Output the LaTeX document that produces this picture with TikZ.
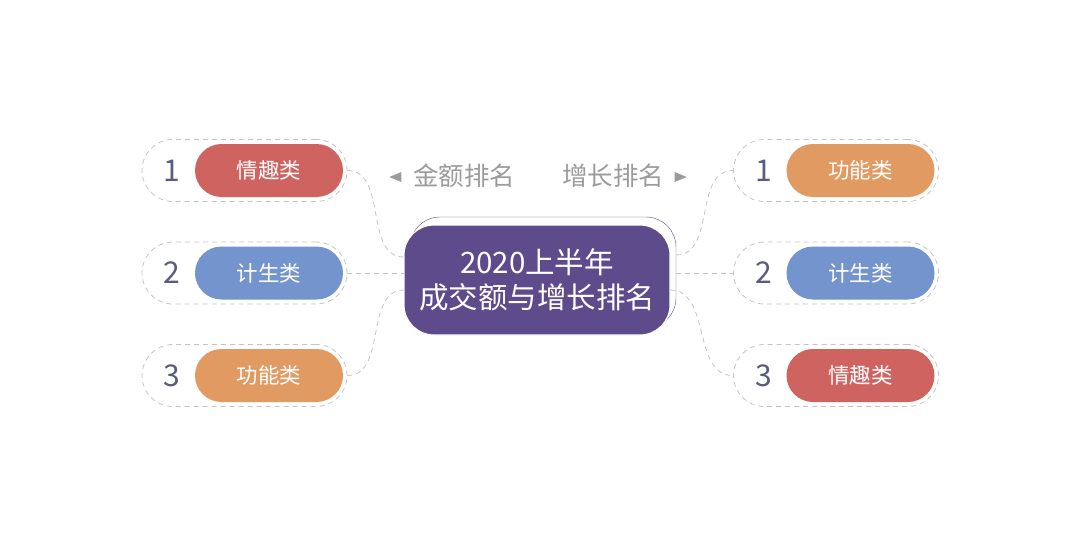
\documentclass[tikz,border=0pt]{standalone}
\usepackage{fontspec}
\setmainfont{Noto Sans CJK SC}
\usepackage{xcolor}
\usetikzlibrary{shapes.geometric,positioning}
\definecolor{rootc}{HTML}{5E4B8B}
\definecolor{redc}{HTML}{CF6360}
\definecolor{bluc}{HTML}{7394CC}
\definecolor{orgc}{HTML}{E09A62}
\definecolor{numc}{HTML}{5B5B7B}
\definecolor{tagc}{HTML}{9B9B9B}
\definecolor{linkc}{HTML}{C4C4C4}

\begin{document}
\begin{tikzpicture} [
      x = 1pt, y = -1pt,
      pill/.style = { rounded corners = 26.5pt, minimum width = 148pt, minimum height = 53pt,
                      inner sep = 0, text = white, font = \fontsize{21.5}{21.5}\selectfont },
      capsule/.style = { draw = linkc, dash pattern = on 5pt off 4pt, line width = 0.8pt,
                         rounded corners = 31pt, minimum width = 205pt, minimum height = 62pt },
      num/.style = { text = numc, font = \fontsize{30}{30}\selectfont },
      tag/.style = { text = tagc, font = \fontsize{25.5}{25.5}\selectfont },
      tip/.style = { isosceles triangle, fill = tagc, inner sep = 0,
                     minimum width = 10pt, minimum height = 8pt },
      link/.style = { draw = linkc, dash pattern = on 5pt off 4pt, line width = 0.8pt }
      ]
  \useasboundingbox (0,0) rectangle (1080,546);

  % centre
  \node [draw = rootc, rounded corners = 30pt, minimum width = 266pt, minimum height = 111pt]
    (rootbk) at (543,272.5) {};
  \node [fill = rootc, draw = white, line width = 1.2pt, rounded corners = 30pt,
         minimum width = 266pt, minimum height = 110pt, text = white, align = center,
         font = \fontsize{29.5}{35}\selectfont] (root) at (537,280) {2020上半年\\成交额与增长排名};

  % headings
  \node [tag] (ltag) at (464,176) {金额排名};
  \node [tip, shape border rotate = 180] (ltip) at (398,177) {};
  \node [tag] (rtag) at (613,176) {增长排名};
  \node [tip] (rtip) at (678,177) {};

  % rows
  \foreach \i/\y/\lc/\lt/\rc/\rt in {1/170.5/redc/情趣类/orgc/功能类,
                                     2/273/bluc/计生类/bluc/计生类,
                                     3/375.5/orgc/功能类/redc/情趣类} {
    \node [capsule] (lb\i) at (244.5,\y) {};
    \node [pill, fill = \lc] (l\i) at (269,\y) {\lt};
    \node [num] (ln\i) at (172,\y) {\i};
    \node [capsule] (rb\i) at (836,\y) {};
    \node [pill, fill = \rc] (r\i) at (860.5,\y) {\rt};
    \node [num] (rn\i) at (764,\y) {\i};
  }

  % connectors
  \coordinate (rl1) at (404,257);
  \coordinate (rl2) at (404,273);
  \coordinate (rl3) at (404,290);
  \coordinate (rr1) at (676,255);
  \coordinate (rr2) at (676,273);
  \coordinate (rr3) at (670,290);
  \draw [link] (lb1.east) to [out = 0, in = 180] (rl1);
  \draw [link] (lb2.east) -- (rl2);
  \draw [link] (lb3.east) to [out = 0, in = 180] (rl3);
  \draw [link] (rr1) to [out = 0, in = 180] (rb1.west);
  \draw [link] (rr2) -- (rb2.west);
  \draw [link] (rr3) to [out = 0, in = 180] (rb3.west);
\end{tikzpicture}
\end{document}
